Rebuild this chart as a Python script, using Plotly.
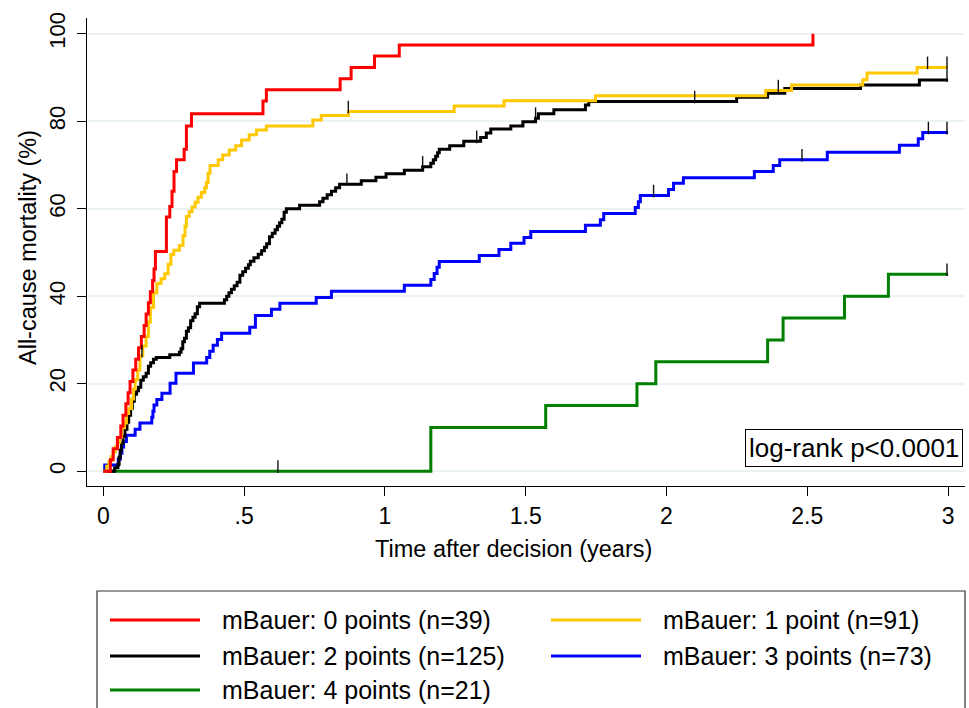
import plotly.graph_objects as go

# ---------------- data ----------------
red_t = [0, 0.025, 0.035, 0.05, 0.062, 0.07, 0.08, 0.088, 0.095, 0.105, 0.115, 0.125, 0.135,
         0.145, 0.152, 0.16, 0.167, 0.175, 0.18, 0.185, 0.224, 0.236, 0.244, 0.251, 0.26, 0.287,
         0.295, 0.313, 0.567, 0.579, 0.841, 0.88, 0.963, 1.051, 2.52]
red_v = [0, 2.6, 5.1, 7.7, 10.3, 12.8, 15.4, 17.9, 20.5, 23.1, 25.6, 28.2, 30.8,
         33.3, 35.9, 38.5, 41.0, 43.6, 46.2, 50.2, 58.1, 60.5, 64.0, 68.5, 71.2, 73.6,
         78.9, 81.7, 84.6, 87.2, 89.7, 92.3, 94.9, 97.4, 100]

yel_t = [0, 0.012, 0.02, 0.028, 0.035, 0.042, 0.05, 0.058, 0.065, 0.075,
         0.082, 0.09, 0.1, 0.107, 0.113, 0.122, 0.13, 0.14, 0.152, 0.16,
         0.167, 0.178, 0.19, 0.205, 0.218, 0.23, 0.24, 0.25, 0.27, 0.283,
         0.29, 0.295, 0.305, 0.315, 0.326, 0.336, 0.348, 0.36, 0.366, 0.372,
         0.379, 0.408, 0.424, 0.447, 0.47, 0.491, 0.518, 0.544, 0.579, 0.744,
         0.774, 0.87, 1.246, 1.423, 1.748, 2.352, 2.444, 2.697, 2.712, 2.89, 3.0]
yel_v = [0, 1.1, 2.2, 3.3, 4.4, 5.5, 6.6, 7.7, 9.9, 11,
         13.2, 14.3, 16.5, 18.7, 20.9, 23.1, 26.4, 28.6, 30.8, 34.1,
         37.4, 40.7, 42.9, 44, 45.1, 47.3, 49.5, 50.5, 51.6, 53.8,
         56, 58.2, 59.3, 60.4, 61.5, 62.6, 63.7, 64.8, 66, 68.1,
         69.9, 71.2, 72.3, 73.4, 74.4, 75.7, 76.9, 78, 78.9, 80.3,
         81.3, 82.2, 83.5, 84.7, 85.8, 87, 88.3, 89.5, 91, 92.3, 92.3]

blk_t = [0, 0.04, 0.052, 0.056, 0.06, 0.064, 0.07, 0.077, 0.084, 0.09, 0.097, 0.103,
         0.11, 0.118, 0.125, 0.133, 0.142, 0.152, 0.16, 0.168, 0.178, 0.188, 0.236, 0.27,
         0.276, 0.282, 0.288, 0.295, 0.302, 0.31, 0.318, 0.326, 0.334, 0.342, 0.43, 0.438,
         0.446, 0.455, 0.465, 0.475, 0.485, 0.495, 0.505, 0.515, 0.522, 0.535, 0.55, 0.562,
         0.572, 0.58, 0.59, 0.6, 0.61, 0.618, 0.626, 0.634, 0.642, 0.65, 0.697, 0.768,
         0.78, 0.795, 0.81, 0.825, 0.839, 0.916, 0.968, 1.004, 1.069, 1.134, 1.163, 1.172,
         1.18, 1.187, 1.193, 1.23, 1.28, 1.34, 1.36, 1.376, 1.447, 1.49, 1.535, 1.545,
         1.6, 1.712, 1.724, 2.249, 2.359, 2.42, 2.689, 2.898, 3.0]
blk_v = [0, 0.8, 1.6, 3.2, 4.8, 6.4, 8.0, 9.6, 11.2, 12.8, 14.4, 16.0,
         17.6, 18.4, 19.2, 20.8, 21.6, 22.4, 24.0, 24.8, 25.6, 26.0, 26.6, 27.2,
         28.0, 29.6, 30.4, 32.0, 32.8, 34.4, 35.2, 36.0, 37.6, 38.4, 39.2, 40.0,
         40.8, 41.6, 42.4, 43.2, 44.8, 45.6, 46.4, 47.2, 48.0, 48.8, 49.6, 50.4,
         51.2, 52.0, 53.6, 54.4, 55.2, 56.0, 56.8, 57.6, 59.2, 60.0, 60.8, 61.6,
         62.4, 63.2, 64.0, 64.8, 65.6, 66.4, 67.2, 68.0, 68.8, 69.6, 70.4, 71.2,
         72.0, 72.8, 73.6, 74.4, 75.4, 76.3, 77.3, 78.2, 78.9, 79.9, 80.7, 81.7,
         82.6, 83.7, 84.5, 85.5, 86.4, 87.5, 88.3, 89.4, 89.4]

blu_t = [0, 0.005, 0.053, 0.06, 0.066, 0.072, 0.082, 0.113, 0.13, 0.172, 0.176, 0.18,
         0.19, 0.208, 0.237, 0.258, 0.32, 0.367, 0.378, 0.39, 0.405, 0.42, 0.52, 0.54,
         0.597, 0.627, 0.756, 0.81, 1.069, 1.163, 1.175, 1.185, 1.193, 1.335, 1.405, 1.447,
         1.494, 1.518, 1.712, 1.765, 1.777, 1.889, 1.9, 1.907, 2.007, 2.025, 2.06, 2.312,
         2.379, 2.402, 2.571, 2.827, 2.894, 2.91, 3.0]
blu_v = [0, 1.4, 2.7, 4.1, 5.5, 6.8, 8.2, 9.6, 11.0, 12.3, 13.7, 15.1,
         16.4, 17.8, 20.1, 22.4, 24.7, 26.0, 27.4, 28.8, 30.1, 31.5, 32.9, 35.6,
         37.0, 38.4, 39.7, 41.1, 42.5, 43.8, 45.2, 46.6, 47.9, 49.3, 50.7, 52.1,
         53.4, 54.8, 56.2, 57.5, 58.9, 60.3, 61.6, 63.0, 64.4, 65.8, 67.1, 68.5,
         69.9, 71.2, 72.9, 74.5, 76.0, 77.4, 77.4]

grn_t = [0, 1.163, 1.571, 1.895, 1.962, 2.359, 2.414, 2.632, 2.788, 3.0]
grn_v = [0, 10, 15, 20, 25, 30, 35, 40, 45, 45]

# censoring times per group
cens_yel = [0.137, 0.87, 2.397, 2.927, 2.996]
cens_blk = [0.865, 1.134, 1.326, 1.535, 2.1, 2.996]
cens_blu = [1.954, 2.481, 2.93, 2.996]
cens_grn = [0.62, 2.996]

names = ["mBauer: 0 points (n=39)", "mBauer: 1 point (n=91)", "mBauer: 2 points (n=125)",
         "mBauer: 3 points (n=73)", "mBauer: 4 points (n=21)"]
colors = ["#FF0000", "#FFC800", "#000000", "#0000FF", "#007F00"]

x_ticks = [0, 0.5, 1, 1.5, 2, 2.5, 3]
x_ticktext = ["0", ".5", "1", "1.5", "2", "2.5", "3"]
y_ticks = [0, 20, 40, 60, 80, 100]

x_title = "Time after decision (years)"
y_title = "All-cause mortality (%)"
test_text = "log-rank p<0.0001"

# ---------------- figure ----------------
W, H = 969, 708
L, R, T, B = 87, 4, 18, 222
XR = [-0.058, 3.06]
YR = [-3.4, 103.6]
FONT = "Liberation Sans, Arial, Helvetica, sans-serif"

series = [(red_t, red_v), (yel_t, yel_v), (blk_t, blk_v), (blu_t, blu_v), (grn_t, grn_v)]
cens = [[], cens_yel, cens_blk, cens_blu, cens_grn]

fig = go.Figure()
draw_order = [4, 3, 2, 1, 0]
for i in draw_order:
    t, v = series[i]
    fig.add_trace(go.Scatter(x=t, y=v, mode="lines", line=dict(color=colors[i], width=3, shape="hv"),
                             name=names[i], showlegend=False, hoverinfo="skip"))

# censor ticks (small vertical marks sitting on top of the curve)
plot_h = H - T - B
unit_px = plot_h / (YR[1] - YR[0])
tick_len = 9
off = (tick_len / 2) / unit_px
for i in range(5):
    if not cens[i]:
        continue
    t, v = series[i]
    cy = []
    for c in cens[i]:
        val = 0
        for tt, vv in zip(t, v):
            if tt <= c:
                val = vv
        cy.append(val + off)
    fig.add_trace(go.Scatter(x=cens[i], y=cy, mode="markers",
                             marker=dict(symbol="line-ns", size=tick_len,
                                         line=dict(color="#111111", width=1.4)),
                             showlegend=False, hoverinfo="skip"))

# helpers for paper coordinates
pw = W - L - R
def px_x(p):
    return (p - L) / pw
def px_y(p):
    return (H - B - p) / plot_h

shapes = []
annotations = []
# legend box
shapes.append(dict(type="rect", xref="paper", yref="paper", x0=px_x(97), x1=px_x(965),
                   y0=px_y(730), y1=px_y(591), line=dict(color="#333333", width=1.2)))
rows = [620, 656, 690]
cols = [(110, 200, 220), (551, 641, 661)]
for k, i in enumerate(range(5)):
    r, c = divmod(k, 2)
    x0, x1, xt = cols[c]
    yy = rows[r]
    shapes.append(dict(type="line", xref="paper", yref="paper", x0=px_x(x0), x1=px_x(x1),
                       y0=px_y(yy), y1=px_y(yy), line=dict(color=colors[i], width=3)))
    annotations.append(dict(xref="paper", yref="paper", x=px_x(xt), y=px_y(yy), text=names[i],
                            showarrow=False, xanchor="left", yanchor="middle",
                            font=dict(size=25, color="#000000", family=FONT)))

annotations.append(dict(xref="paper", yref="paper", x=px_x(963), y=px_y(448),
                        text=test_text, showarrow=False, xanchor="right", yanchor="middle",
                        font=dict(size=26, color="#000000", family=FONT),
                        bordercolor="#000000", borderwidth=1, borderpad=3, bgcolor="white"))

# axis titles
annotations.append(dict(xref="paper", yref="paper", x=px_x(513), y=px_y(549), text=x_title,
                        showarrow=False, xanchor="center", yanchor="middle",
                        font=dict(size=23.5, color="#000000", family=FONT)))
annotations.append(dict(xref="paper", yref="paper", x=px_x(28), y=px_y(248), text=y_title,
                        showarrow=False, xanchor="center", yanchor="middle", textangle=-90,
                        font=dict(size=23.5, color="#000000", family=FONT)))

fig.update_layout(
    width=W, height=H,
    margin=dict(l=L, r=R, t=T, b=B, pad=0),
    paper_bgcolor="white", plot_bgcolor="white",
    font=dict(family=FONT, size=22, color="#000000"),
    showlegend=False,
    shapes=shapes, annotations=annotations,
    xaxis=dict(range=XR, tickvals=x_ticks, ticktext=x_ticktext, showgrid=False, zeroline=False,
               showline=True, linecolor="#000000", linewidth=1.3, ticks="outside", ticklen=9,
               tickwidth=1.3, tickcolor="#000000", tickfont=dict(size=23)),
    yaxis=dict(range=YR, tickvals=y_ticks, showgrid=True, gridcolor="#EAF2F3", gridwidth=2,
               zeroline=False, showline=True, linecolor="#000000", linewidth=1.3, ticks="outside",
               ticklen=9, tickwidth=1.3, tickcolor="#000000", tickangle=-90, tickfont=dict(size=22),
               ticklabelstandoff=3),
)

fig.write_html("out.html")
